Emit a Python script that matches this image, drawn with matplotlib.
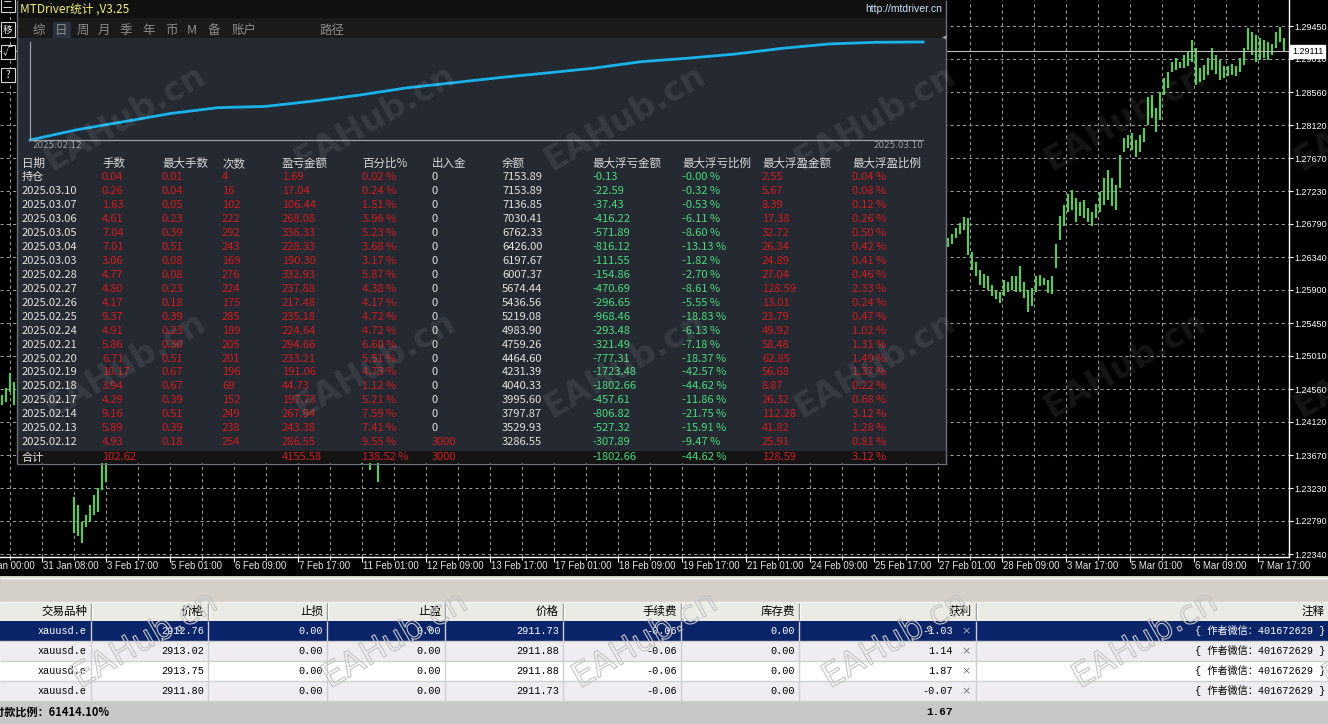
import numpy as np
import matplotlib
matplotlib.use('Agg')
import matplotlib.pyplot as plt
from matplotlib.patches import Rectangle
from matplotlib.ticker import FixedLocator
import matplotlib.patheffects as pe

plt.rcParams['font.family'] = ['Noto Sans CJK SC', 'DejaVu Sans']
NARROW = ['Liberation Sans', 'DejaVu Sans']
MONO = ['Liberation Mono', 'Noto Sans CJK SC']

W, H = 1328, 724

# ---------------- price chart, H1 bars, x = hours since 30 Jan 00:00 ----------------
time_labels = ['30 Jan 00:00', '31 Jan 08:00', '3 Feb 17:00', '5 Feb 01:00', '6 Feb 09:00',
               '7 Feb 17:00', '11 Feb 01:00', '12 Feb 09:00', '13 Feb 17:00', '17 Feb 01:00',
               '18 Feb 09:00', '19 Feb 17:00', '21 Feb 01:00', '24 Feb 09:00', '25 Feb 17:00',
               '27 Feb 01:00', '28 Feb 09:00', '3 Mar 17:00', '5 Mar 01:00', '6 Mar 09:00',
               '7 Mar 17:00']
hours_per_label = 32
price_labels = [1.29450, 1.29010, 1.28560, 1.28120, 1.27670, 1.27230, 1.26790, 1.26340,
                1.25900, 1.25450, 1.25010, 1.24560, 1.24120, 1.23670, 1.23230, 1.22790, 1.22340]
last_price = 1.29111

# visible pieces of the chart (one bar every 2 hours)
edge_start = 12
edge_high = [1.2448, 1.2458, 1.2478, 1.2466]
edge_low = [1.2435, 1.2439, 1.2452, 1.2435]

dip_start = 48
dip_high = [1.2311, 1.2300, 1.2277, 1.2287, 1.2300, 1.2314, 1.2323, 1.2361, 1.2388]
dip_low = [1.2262, 1.2259, 1.2249, 1.2271, 1.2277, 1.2287, 1.2291, 1.2320, 1.2331]

mid_start = 192
mid_high = [1.2388, 1.2388, 1.2381, 1.2388, 1.2381]
mid_low = [1.2354, 1.2358, 1.2347, 1.2361, 1.2331]

rally_start = 485
rally_high = [1.2660, 1.2665, 1.2673, 1.2680, 1.2688, 1.2687, 1.2641, 1.2628, 1.2617, 1.2611,
              1.2609, 1.2597, 1.2590, 1.2587, 1.2603, 1.2601, 1.2609, 1.2609, 1.2622, 1.2601,
              1.2590, 1.2593, 1.2609, 1.2610, 1.2606, 1.2603, 1.2609, 1.2652, 1.2690, 1.2704,
              1.2719, 1.2725, 1.2714, 1.2708, 1.2711, 1.2700, 1.2695, 1.2706, 1.2722, 1.2741,
              1.2751, 1.2741, 1.2731, 1.2772, 1.2795, 1.2799, 1.2801, 1.2792, 1.2799, 1.2808,
              1.2850, 1.2852, 1.2835, 1.2856, 1.2875, 1.2883, 1.2897, 1.2902, 1.2897, 1.2906,
              1.2910, 1.2927, 1.2916, 1.2889, 1.2893, 1.2902, 1.2916, 1.2906, 1.2900, 1.2892,
              1.2892, 1.2894, 1.2892, 1.2902, 1.2916, 1.2943, 1.2937, 1.2933, 1.2929, 1.2927,
              1.2924, 1.2921, 1.2937, 1.2944, 1.2929]
rally_low = [1.2648, 1.2652, 1.2660, 1.2665, 1.2671, 1.2637, 1.2617, 1.2609, 1.2597, 1.2593,
             1.2590, 1.2582, 1.2578, 1.2572, 1.2582, 1.2587, 1.2590, 1.2587, 1.2587, 1.2579,
             1.2560, 1.2568, 1.2587, 1.2595, 1.2597, 1.2586, 1.2584, 1.2619, 1.2657, 1.2676,
             1.2695, 1.2698, 1.2681, 1.2690, 1.2687, 1.2681, 1.2676, 1.2687, 1.2695, 1.2704,
             1.2711, 1.2703, 1.2698, 1.2727, 1.2776, 1.2781, 1.2778, 1.2769, 1.2776, 1.2789,
             1.2812, 1.2822, 1.2803, 1.2819, 1.2852, 1.2862, 1.2883, 1.2886, 1.2889, 1.2889,
             1.2891, 1.2897, 1.2866, 1.2870, 1.2873, 1.2879, 1.2886, 1.2881, 1.2873, 1.2875,
             1.2878, 1.2879, 1.2878, 1.2883, 1.2893, 1.2913, 1.2906, 1.2897, 1.2900, 1.2902,
             1.2900, 1.2906, 1.2916, 1.2924, 1.2910]

# ---------------- MTDriver daily statistics ----------------
tabs = ['综', '日', '周', '月', '季', '年', '币', 'M', '备', '账户']
headers = ['日期', '手数', '最大手数', '次数', '盈亏金额', '百分比%', '出入金', '余额',
           '最大浮亏金额', '最大浮亏比例', '最大浮盈金额', '最大浮盈比例']
dates = ['2025.03.10', '2025.03.07', '2025.03.06', '2025.03.05', '2025.03.04', '2025.03.03',
         '2025.02.28', '2025.02.27', '2025.02.26', '2025.02.25', '2025.02.24', '2025.02.21',
         '2025.02.20', '2025.02.19', '2025.02.18', '2025.02.17', '2025.02.14', '2025.02.13',
         '2025.02.12']
lots = [0.26, 1.63, 4.61, 7.04, 7.01, 3.06, 4.77, 4.80, 4.17, 9.37, 4.91, 5.86, 6.71, 10.17,
        3.94, 4.29, 9.16, 5.89, 4.93]
max_lots = [0.04, 0.05, 0.23, 0.39, 0.51, 0.08, 0.08, 0.23, 0.18, 0.39, 0.23, 0.30, 0.51, 0.67,
            0.67, 0.39, 0.51, 0.39, 0.18]
trades = [16, 102, 222, 292, 243, 169, 276, 224, 175, 285, 189, 205, 201, 196, 69, 152, 249, 238, 254]
pnl = [17.04, 106.44, 268.08, 336.33, 228.33, 190.30, 332.93, 237.88, 217.48, 235.18, 224.64,
       294.66, 233.21, 191.06, 44.73, 197.73, 267.94, 243.38, 286.55]
pnl_pct = [0.24, 1.51, 3.96, 5.23, 3.68, 3.17, 5.87, 4.38, 4.17, 4.72, 4.72, 6.60, 5.51, 4.73,
           1.12, 5.21, 7.59, 7.41, 9.55]
deposit = [0, 0, 0, 0, 0, 0, 0, 0, 0, 0, 0, 0, 0, 0, 0, 0, 0, 0, 3000]
balance = [7153.89, 7136.85, 7030.41, 6762.33, 6426.00, 6197.67, 6007.37, 5674.44, 5436.56,
           5219.08, 4983.90, 4759.26, 4464.60, 4231.39, 4040.33, 3995.60, 3797.87, 3529.93, 3286.55]
float_loss = [-22.59, -37.43, -416.22, -571.89, -816.12, -111.55, -154.86, -470.69, -296.65,
              -968.46, -293.48, -321.49, -777.31, -1723.48, -1802.66, -457.61, -806.82, -527.32, -307.89]
float_loss_pct = [-0.32, -0.53, -6.11, -8.60, -13.13, -1.82, -2.70, -8.61, -5.55, -18.83, -6.13,
                  -7.18, -18.37, -42.57, -44.62, -11.86, -21.75, -15.91, -9.47]
float_profit = [5.67, 8.39, 17.38, 32.72, 26.34, 24.89, 27.04, 128.59, 13.01, 23.79, 49.92,
                58.48, 62.85, 56.68, 8.87, 26.32, 112.28, 41.82, 25.91]
float_profit_pct = [0.08, 0.12, 0.26, 0.50, 0.42, 0.41, 0.46, 2.33, 0.24, 0.47, 1.02, 1.31,
                    1.49, 1.37, 0.22, 0.68, 3.12, 1.28, 0.81]
holding = [0.04, 0.01, 4, 1.69, 0.02, 0, 7153.89, -0.13, -0.0, 2.55, 0.04]
totals = [102.62, None, None, 4155.58, 138.52, 3000, None, -1802.66, -44.62, 128.59, 3.12]
start_balance = 3000

# ---------------- open orders ----------------
order_headers = ['交易品种', '价格', '止损', '止盈', '价格', '手续费', '库存费', '获利', '注释']
symbols = ['xauusd.e', 'xauusd.e', 'xauusd.e', 'xauusd.e']
open_price = [2912.76, 2913.02, 2913.75, 2911.80]
stop_loss = [0.00, 0.00, 0.00, 0.00]
take_profit = [0.00, 0.00, 0.00, 0.00]
cur_price = [2911.73, 2911.88, 2911.88, 2911.73]
commission = [-0.06, -0.06, -0.06, -0.06]
swap = [0.00, 0.00, 0.00, 0.00]
profit = [-1.03, 1.14, 1.87, -0.07]
comment = '{ 作者微信：401672629 }'
margin_level = 61414.10

RED = '#d41a1a'
GREEN = '#46dc7c'
WHITE = '#e2e2e2'
BAR = '#4fd24f'

fig = plt.figure(figsize=(W / 100, H / 100), dpi=100, facecolor='black')


def frac(x0, y0, x1, y1):
    return [x0 / W, 1 - y1 / H, (x1 - x0) / W, (y1 - y0) / H]


# ---------------- price axes ----------------
ax = fig.add_axes(frac(0, 0, 1289, 557), facecolor='black')
for start, hi, lo in [(edge_start, edge_high, edge_low), (dip_start, dip_high, dip_low),
                      (mid_start, mid_high, mid_low), (rally_start, rally_high, rally_low)]:
    t = start + 2 * np.arange(len(hi))
    ax.vlines(t, lo, hi, color=BAR, lw=1.5)

ax.set_xlim(11.25, 655.75)
ax.set_ylim(1.22301, 1.29804)
ax.xaxis.set_major_locator(FixedLocator(np.arange(len(time_labels)) * hours_per_label))
ax.xaxis.set_minor_locator(FixedLocator(np.arange(len(time_labels)) * hours_per_label + hours_per_label // 2))
ax.set_yticks(price_labels)
ax.set_yticklabels([f'{p:.5f}' for p in price_labels])
ax.grid(which='both', color='#9a9a9a', lw=0.75, ls=(0, (3, 3)))
ax.axhline(last_price, color='#bdbdbd', lw=0.8)
ax.yaxis.tick_right()
ax.tick_params(axis='y', length=3, color='white', labelcolor='white', labelsize=6.5, pad=1,
               labelfontfamily=NARROW)
ax.tick_params(axis='x', which='major', length=3.5, color='white', labelbottom=False)
ax.tick_params(axis='x', which='minor', length=2, color='white')
for s in ['top', 'left']:
    ax.spines[s].set_visible(False)
for s in ['right', 'bottom']:
    ax.spines[s].set_color('white')
    ax.spines[s].set_linewidth(1)
for k, lab in enumerate(time_labels):
    ax.annotate(lab, xy=(k * hours_per_label, 0), xycoords=('data', 'axes fraction'),
                xytext=(1.2, -6.6), textcoords='offset points', ha='left', va='center',
                color='#e6e6e6', fontsize=6.9, family=NARROW, annotation_clip=False)
ax.annotate(f'{last_price:.5f}', xy=(1, last_price), xycoords=('axes fraction', 'data'),
            xytext=(2.2, 0), textcoords='offset points', ha='left', va='center', color='black',
            fontsize=6.5, family=NARROW, annotation_clip=False, zorder=6,
            bbox=dict(boxstyle='square,pad=0.18', fc='white', ec='white'))

# ---------------- overlay in pixel coordinates ----------------
ui = fig.add_axes([0, 0, 1, 1], zorder=1)
ui.set_xlim(0, W)
ui.set_ylim(H, 0)
ui.axis('off')
ui.patch.set_alpha(0)


def rect(x0, y0, x1, y1, fc, ec='none', lw=0):
    ui.add_patch(Rectangle((x0, y0), x1 - x0, y1 - y0, fc=fc, ec=ec, lw=lw))


def line(x0, y0, x1, y1, c, lw=1):
    ui.plot([x0, x1], [y0, y1], color=c, lw=lw, solid_capstyle='butt')


# left toolbar buttons
for (y0, y1), lab in zip([(-2, 12), (22, 37), (45, 59), (68, 82)], ['二', '移', '√', '?']):
    rect(0.5, y0, 15, y1, 'black', ec='#d8d8d8', lw=0.8)
    ui.text(7.5, (y0 + y1) / 2, lab, color='white', fontsize=7, ha='center', va='center')

# statistics panel
rect(17, 0, 946, 18, '#101010')
rect(17, 18, 946, 38, '#1a1a1a')
rect(17, 38, 946, 451, '#242932')
rect(17, 451, 946, 463, '#141414')
line(17, 0, 17, 463.5, '#6c7079')
line(946, 0, 946, 463.5, '#6c7079')
line(17, 463.5, 946.5, 463.5, '#6c7079')
ui.text(20, 9, 'MTDriver统计 ,V3.25', color='#f4ef7a', fontsize=8.5, ha='left', va='center')
ui.text(942, 9, 'http://mtdriver.cn', color='#cfe2ff', fontsize=7.5, ha='right', va='center',
        family=NARROW)
rect(53, 22, 71, 38, '#2b3240')
for xc, lab in zip([39, 61, 83, 104, 126, 149, 171, 192, 214, 244], tabs):
    ui.text(xc, 30.5, lab, color='#8c8c8c', fontsize=9, ha='center', va='center')
ui.text(332, 30.5, '路径', color='#8c8c8c', fontsize=9, ha='center', va='center')
ui.text(944, 37.5, '◀', color='#9a9a9a', fontsize=4.5, ha='center', va='center', family='DejaVu Sans')

col_x = [22, 102, 162, 222, 282, 362, 432, 502, 592, 682, 762, 852]
for xc, lab in zip(col_x, headers):
    ui.text(xc, 163.5, lab, color='#d8d8d8', fontsize=8.3, ha='left', va='center')

fmts = ['f', 'f', 'i', 'f', 'p', 'i', 'f', 'f', 'p', 'f', 'p']
colors = [RED, RED, RED, RED, RED, None, WHITE, GREEN, GREEN, RED, RED]


def cell(v, fmt):
    if v is None:
        return ''
    if fmt == 'i':
        return f'{int(v)}'
    if fmt == 'p':
        return f'{v:.2f} %'
    return f'{v:.2f}'


def draw_row(y, label, values):
    ui.text(col_x[0], y, label, color=WHITE, fontsize=8, ha='left', va='center')
    for xc, v, fmt, c in zip(col_x[1:], values, fmts, colors):
        if c is None:
            c = RED if v else WHITE
        ui.text(xc, y, cell(v, fmt), color=c, fontsize=8, ha='left', va='center')


draw_row(177, '持仓', holding)
for i, d in enumerate(dates):
    vals = [lots[i], max_lots[i], trades[i], pnl[i], pnl_pct[i], deposit[i], balance[i],
            float_loss[i], float_loss_pct[i], float_profit[i], float_profit_pct[i]]
    draw_row(191 + 13.96 * i, d, vals)
draw_row(457.5, '合计', totals)

# ---------------- equity curve ----------------
equity = [start_balance] + balance[::-1]
ax_eq = fig.add_axes(frac(30, 42, 923, 140), zorder=2)
ax_eq.patch.set_alpha(0)
ax_eq.set_yscale('log')
ax_eq.plot(np.arange(len(equity)), equity, color='#1ab2ea', lw=2.0, clip_on=False)
ax_eq.set_xlim(0, len(equity) - 1)
ax_eq.set_ylim(min(equity), max(equity))
ax_eq.tick_params(which='both', left=False, bottom=False, labelleft=False, labelbottom=False)
for s in ['top', 'right']:
    ax_eq.spines[s].set_visible(False)
for s in ['left', 'bottom']:
    ax_eq.spines[s].set_color('#9a9ea6')
    ax_eq.spines[s].set_linewidth(0.9)
ax_eq.annotate(dates[-1], xy=(0, 0), xycoords='axes fraction', xytext=(2, -4.3),
               textcoords='offset points', ha='left', va='center', color='#9aa0a8', fontsize=6.3,
               family='DejaVu Sans')
ax_eq.annotate(dates[0], xy=(1, 0), xycoords='axes fraction', xytext=(0, -4.3),
               textcoords='offset points', ha='right', va='center', color='#9aa0a8', fontsize=6.3,
               family='DejaVu Sans')

# ---------------- orders terminal ----------------
rect(0, 576, W, H, '#d4d0c8')
line(0, 577.5, W, 577.5, 'white')
line(0, 601.5, W, 601.5, '#f4f4f4')
rect(0, 602, W, 621, '#ebeae4')
col_right = [91, 208, 327, 445, 563, 681, 799, 976, 1328]
row_bg = ['#0a246a', '#efedf1', '#ffffff', '#efedf1']
for r, bg in enumerate(row_bg):
    rect(0, 621 + 20 * r, W, 641 + 20 * r, bg)
    line(0, 641 + 20 * r, W, 641 + 20 * r, '#d0d0d0')
rect(0, 701, W, H, '#c8c8c8')
for xe in col_right[:-1]:
    line(xe, 603, xe, 620, '#8a8a8a')
    line(xe + 1, 603, xe + 1, 620, 'white')
    line(xe, 621, xe, 701, '#cfcfd6')
for xe, lab in zip(col_right, order_headers):
    ui.text(xe - 4, 611.5, lab, color='black', fontsize=8.3, ha='right', va='center')

for r in range(len(symbols)):
    y = 631 + 20 * r
    fg = 'white' if r == 0 else 'black'
    cells = [symbols[r], f'{open_price[r]:.2f}', f'{stop_loss[r]:.2f}', f'{take_profit[r]:.2f}',
             f'{cur_price[r]:.2f}', f'{commission[r]:.2f}', f'{swap[r]:.2f}']
    for xe, s in zip(col_right, cells):
        ui.text(xe - 4, y, s, color=fg, fontsize=7.3, ha='right', va='center', family=MONO)
    ui.text(col_right[7] - 23, y, f'{profit[r]:.2f}', color=fg, fontsize=7.3, ha='right',
            va='center', family=MONO)
    ui.text(col_right[7] - 10, y, '×', color='#a8aac8' if r == 0 else '#7c7c7c', fontsize=8,
            ha='center', va='center', family='DejaVu Sans')
    ui.text(col_right[8] - 3, y, comment, color=fg, fontsize=7.3, ha='right', va='center',
            family=MONO)

total_profit = sum(profit) + sum(commission) + sum(swap)
ui.text(-17, 712, f'预付款比例：{margin_level:.2f}%', color='black', fontsize=8, ha='left',
        va='center', fontweight='bold', clip_on=False)
ui.text(col_right[7] - 23, 712, f'{total_profit:.2f}', color='black', fontsize=8, ha='right',
        va='center', fontweight='bold', family=['Liberation Mono', 'DejaVu Sans'])

# ---------------- watermarks ----------------
for yc in [118, 365]:
    for xc in [125, 375, 625, 875, 1125, 1375]:
        fig.text(xc / W, 1 - yc / H, 'EAHub.cn', color='white', alpha=0.085, fontsize=24,
                 fontweight='bold', rotation=30, ha='center', va='center', family='DejaVu Sans',
                 zorder=10)
for xc in [145, 395, 645, 895, 1145, 1395]:
    fig.text(xc / W, 1 - 640 / H, 'EAHub.cn', color='none', fontsize=24, rotation=30,
             ha='center', va='center', family='DejaVu Sans', zorder=10,
             path_effects=[pe.Stroke(linewidth=0.8, foreground='#c4c4c4')])

fig.savefig('out.png', dpi=100, facecolor='black')
